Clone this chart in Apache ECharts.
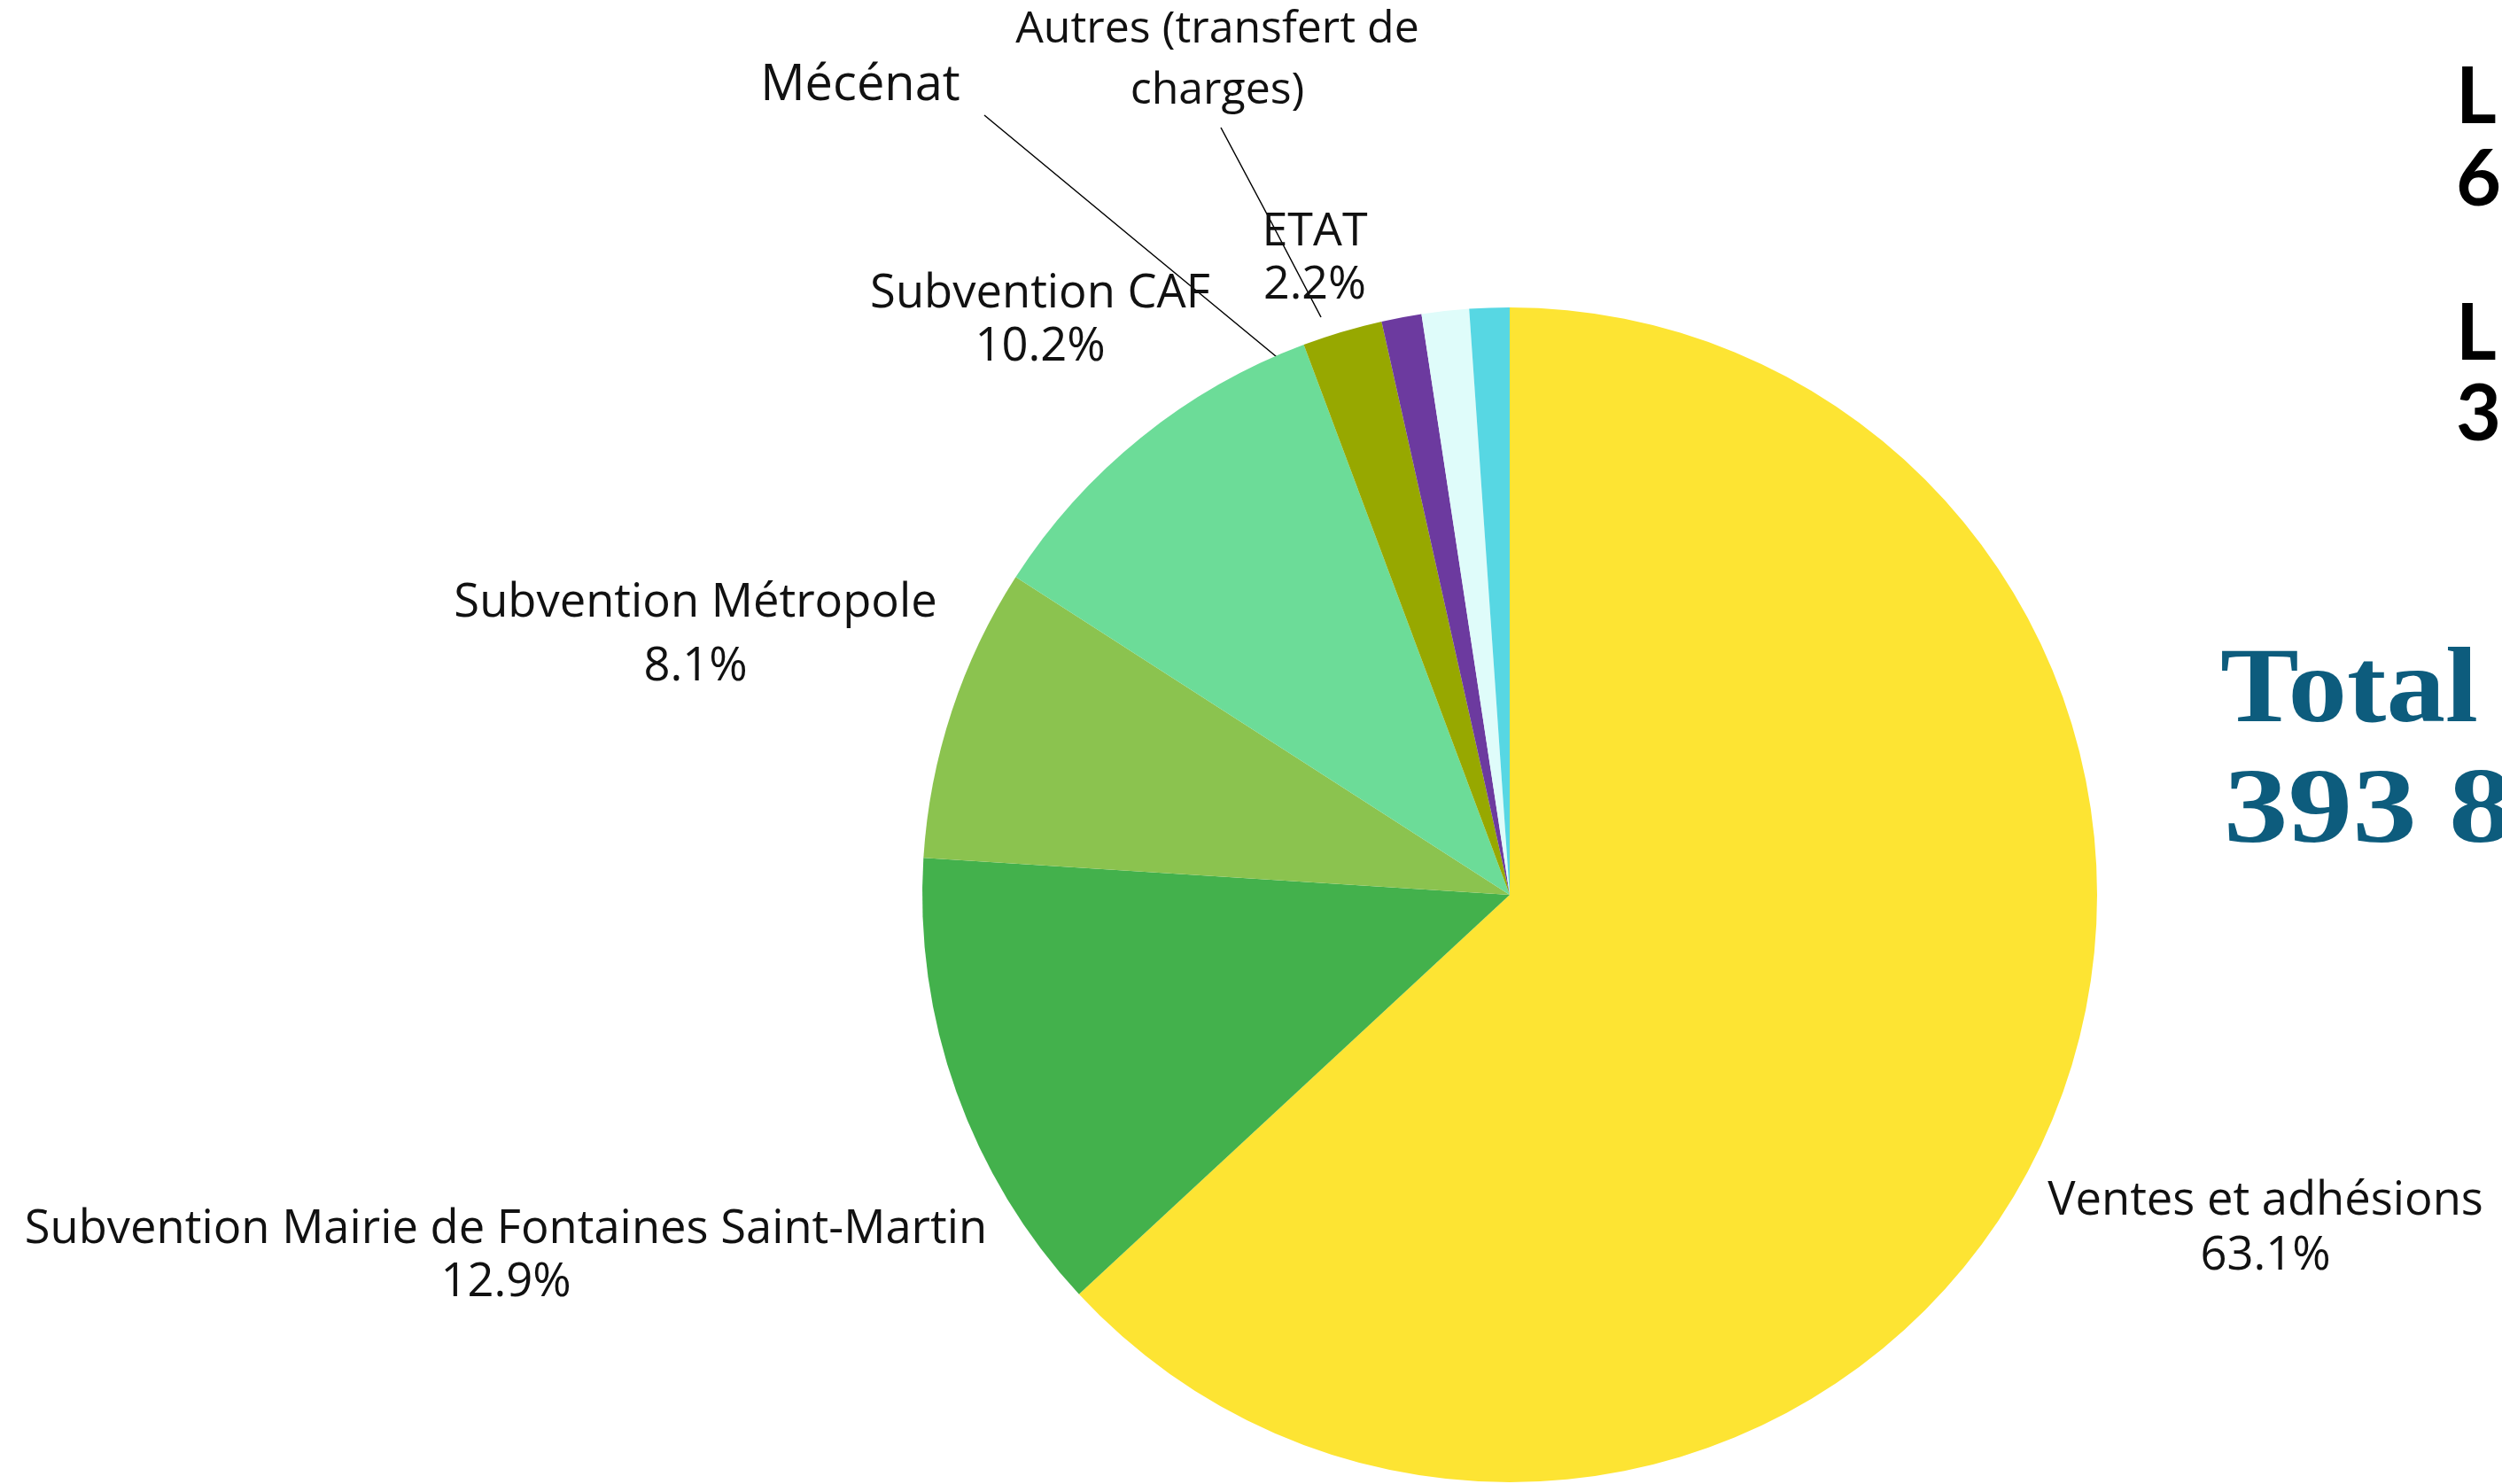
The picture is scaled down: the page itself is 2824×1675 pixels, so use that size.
<!DOCTYPE html>
<html lang="fr">
  <head>
    <meta charset="UTF-8" />
    <title>Recettes</title>
    <style>
      html, body { margin: 0; padding: 0; background: #fff; }
      #main { width: 2824px; height: 1675px; }
    </style>
  </head>
  <body>
    <div id="main"></div>

    <script src="https://cdn.jsdelivr.net/npm/echarts@6/dist/echarts.min.js"></script>
    <script>
      // ===== données =====
      const names = [
        'Ventes et adhésions',
        'Subvention Mairie de Fontaines Saint-Martin',
        'Subvention Métropole',
        'Subvention CAF',
        'ETAT',
        'Mécénat',
        'Autres (transfert de\ncharges)',
        ''
      ]
      const values = [63.1, 12.9, 8.1, 10.2, 2.2, 1.1, 1.3, 1.1]
      const showPercent = [true, true, true, true, true, false, false, false]
      // ===== données =====

      const colors = ['#fde433', '#43b14c', '#8bc34f', '#6cdc98', '#97a800', '#6c3a9f', '#dffcfa', '#57d7e3']

      // positions des étiquettes (centre du bloc de texte) et lignes de rappel
      const labelPos = [
        [2557, 1387], [571, 1418], [785, 717], [1174, 362],
        [1484, 292], [971, 97], [1374, 68], null
      ]
      const lineHeights = [62, 60, 72, 60, 60, 60, 69, 60]
      const fontSizes = [52.5, 52.5, 52.5, 52.5, 52, 56, 50, 50]
      const leaderLines = {
        5: [[1111, 130], [1280, 270], [1446, 407]],
        6: [[1378, 144], [1435, 251], [1491, 358]]
      }

      const data = values.map((v, i) => ({
        value: v,
        name: names[i],
        itemStyle: { color: colors[i] },
        label: {
          show: labelPos[i] !== null,
          lineHeight: lineHeights[i],
          fontSize: fontSizes[i]
        },
        labelLine: { show: !!leaderLines[i] }
      }))

      const myChart = echarts.init(document.getElementById('main'))

      const sideFont = 'bold 88px Lato'
      const totalFont = 'bold 121px "Liberation Serif"'

      const option = {
        backgroundColor: '#ffffff',
        animation: false,
        graphic: [
          { type: 'text', left: 2772, top: 67, style: { text: 'L', font: sideFont, fill: '#000' } },
          { type: 'text', left: 2772, top: 160, style: { text: '6', font: sideFont, fill: '#000' } },
          { type: 'text', left: 2772, top: 334, style: { text: 'L', font: sideFont, fill: '#000' } },
          { type: 'text', left: 2772, top: 425, style: { text: '3', font: sideFont, fill: '#000' } },
          { type: 'text', x: 2506, y: 722, scaleX: 1.1, style: { text: 'Total', font: totalFont, fill: '#0d5c7d' } },
          { type: 'text', x: 2510, y: 858, scaleX: 1.2, style: { text: '393 8', font: totalFont, fill: '#0d5c7d' } }
        ],
        series: [
          {
            type: 'pie',
            center: [1704, 1010],
            radius: 663,
            startAngle: 90,
            clockwise: true,
            avoidLabelOverlap: false,
            label: {
              position: 'outside',
              fontFamily: 'Open Sans',
              fontSize: 52,
              color: '#111',
              align: 'center',
              formatter: function (p) {
                return showPercent[p.dataIndex]
                  ? p.name + '\n' + p.value.toFixed(1) + '%'
                  : p.name
              }
            },
            labelLine: {
              lineStyle: { color: '#000', width: 1.5 }
            },
            labelLayout: function (params) {
              const pos = labelPos[params.dataIndex]
              if (!pos) return {}
              const res = { x: pos[0], y: pos[1], align: 'center', verticalAlign: 'middle' }
              if (leaderLines[params.dataIndex]) {
                res.labelLinePoints = leaderLines[params.dataIndex]
              }
              return res
            },
            data: data
          }
        ]
      }

      myChart.setOption(option)
    </script>
  </body>
</html>
